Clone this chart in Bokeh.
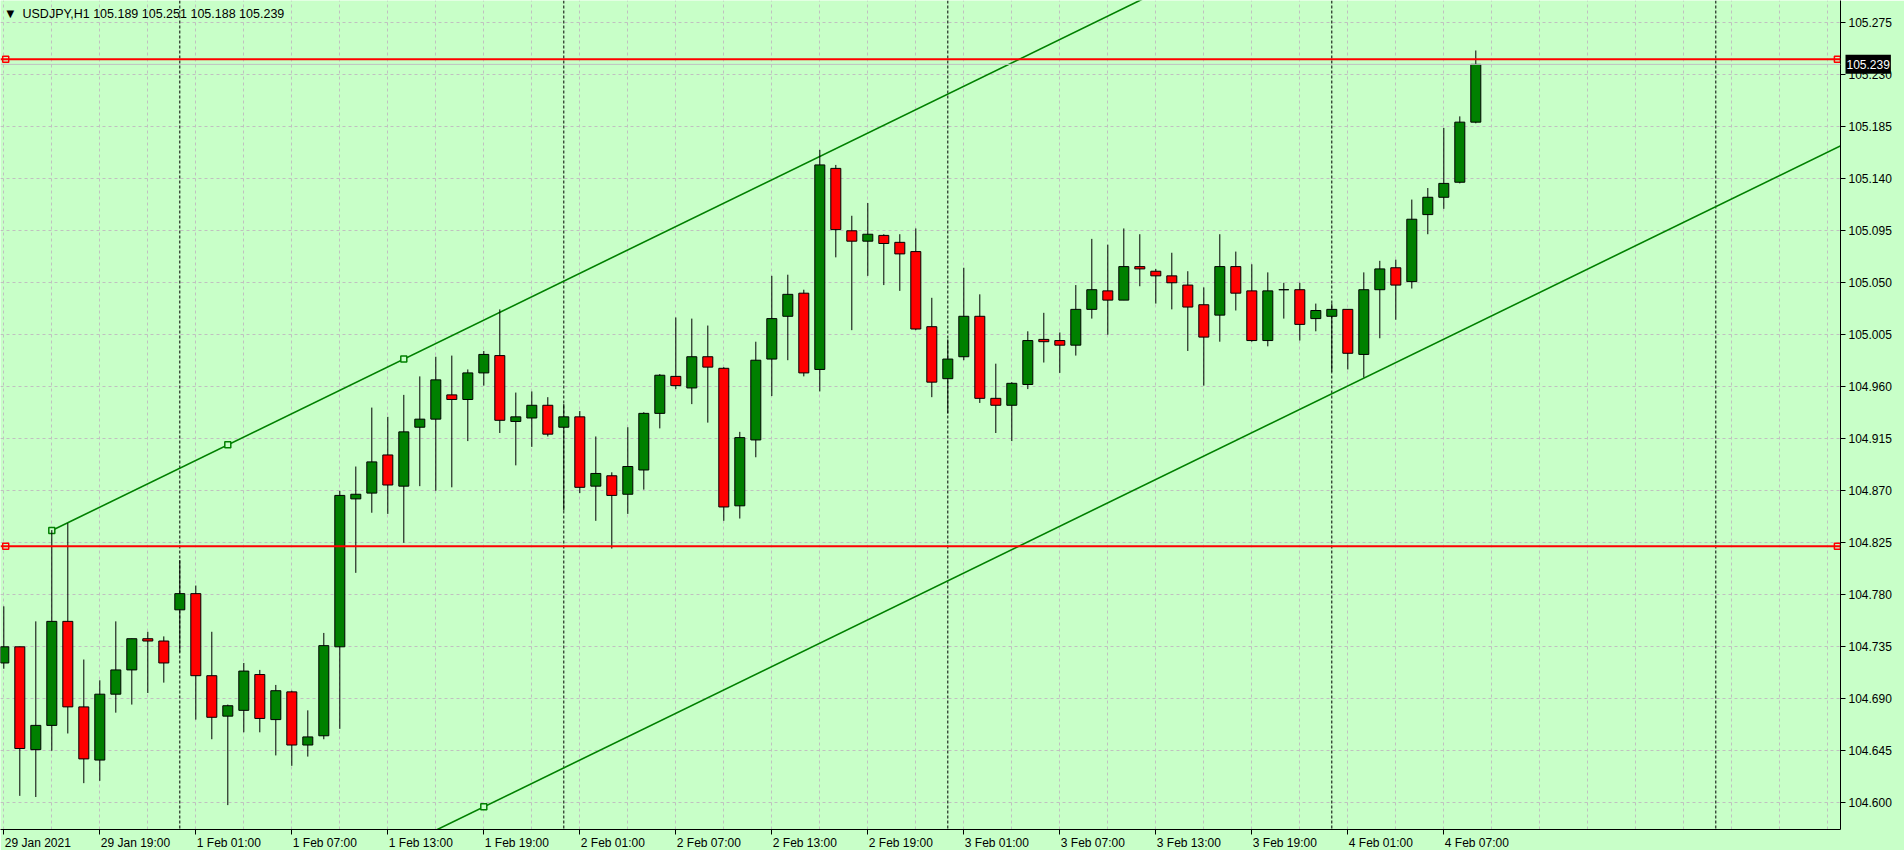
from bokeh.plotting import figure
from bokeh.models import Range1d, FixedTicker, Span, Label, ColumnDataSource
from bokeh.embed import file_html
from bokeh.resources import INLINE

symbol = "USDJPY,H1"
opens = [104.721, 104.735, 104.646, 104.667, 104.757, 104.683, 104.637, 104.694, 104.715, 104.742,
         104.740, 104.767, 104.781, 104.710, 104.675, 104.680, 104.711, 104.672, 104.696, 104.650,
         104.658, 104.735, 104.863, 104.868, 104.901, 104.874, 104.925, 104.932, 104.953, 104.949,
         104.972, 104.987, 104.930, 104.933, 104.944, 104.925, 104.934, 104.874, 104.883, 104.867,
         104.888, 104.937, 104.969, 104.959, 104.986, 104.976, 104.857, 104.914, 104.984, 105.021,
         105.041, 104.975, 105.149, 105.095, 105.086, 105.091, 105.085, 105.077, 105.012, 104.967,
         104.986, 105.021, 104.950, 104.944, 104.962, 105.001, 105.000, 104.996, 105.027, 105.043,
         105.035, 105.064, 105.060, 105.056, 105.048, 105.031, 105.022, 105.064, 105.043, 105.000,
         105.044, 105.044, 105.019, 105.021, 105.027, 104.988, 105.044, 105.063, 105.051, 105.109,
         105.124, 105.137, 105.189]
highs = [104.770, 104.735, 104.757, 104.836, 104.842, 104.724, 104.706, 104.757, 104.742, 104.748,
         104.744, 104.810, 104.788, 104.748, 104.685, 104.721, 104.715, 104.702, 104.697, 104.680,
         104.747, 104.870, 104.891, 104.942, 104.934, 104.953, 104.969, 104.986, 104.987, 104.975,
         104.991, 105.027, 104.955, 104.956, 104.951, 104.945, 104.939, 104.917, 104.886, 104.925,
         104.938, 104.971, 105.020, 105.019, 105.013, 104.977, 104.921, 104.999, 105.056, 105.057,
         105.044, 105.165, 105.152, 105.108, 105.119, 105.092, 105.092, 105.097, 105.037, 105.001,
         105.063, 105.040, 104.980, 104.964, 105.008, 105.024, 105.007, 105.048, 105.088, 105.083,
         105.097, 105.092, 105.062, 105.076, 105.060, 105.046, 105.092, 105.077, 105.066, 105.059,
         105.050, 105.050, 105.032, 105.032, 105.027, 105.059, 105.069, 105.070, 105.122, 105.132,
         105.184, 105.194, 105.251]
lows = [104.716, 104.606, 104.605, 104.645, 104.660, 104.617, 104.619, 104.678, 104.685, 104.695,
        104.704, 104.730, 104.672, 104.655, 104.598, 104.661, 104.661, 104.641, 104.632, 104.640,
        104.655, 104.664, 104.799, 104.851, 104.850, 104.825, 104.874, 104.870, 104.873, 104.913,
        104.961, 104.920, 104.892, 104.908, 104.917, 104.853, 104.868, 104.844, 104.820, 104.850,
        104.871, 104.924, 104.958, 104.945, 104.929, 104.844, 104.846, 104.899, 104.952, 104.983,
        104.969, 104.956, 105.072, 105.009, 105.056, 105.048, 105.043, 105.009, 104.951, 104.937,
        104.983, 104.946, 104.920, 104.913, 104.958, 104.981, 104.972, 104.987, 105.019, 105.005,
        105.035, 105.047, 105.032, 105.027, 104.991, 104.961, 104.999, 105.026, 104.999, 104.995,
        105.019, 105.000, 105.008, 104.973, 104.975, 104.968, 105.002, 105.018, 105.045, 105.092,
        105.114, 105.136, 105.188]
closes = [104.735, 104.647, 104.667, 104.757, 104.683, 104.638, 104.694, 104.715, 104.742, 104.740,
          104.721, 104.781, 104.710, 104.674, 104.684, 104.714, 104.673, 104.697, 104.650, 104.657,
          104.736, 104.866, 104.867, 104.895, 104.875, 104.921, 104.932, 104.966, 104.949, 104.972,
          104.988, 104.931, 104.934, 104.944, 104.919, 104.934, 104.873, 104.885, 104.866, 104.891,
          104.937, 104.970, 104.961, 104.986, 104.977, 104.856, 104.916, 104.983, 105.019, 105.040,
          104.972, 105.152, 105.096, 105.086, 105.092, 105.084, 105.075, 105.010, 104.964, 104.984,
          105.021, 104.950, 104.944, 104.963, 105.000, 104.999, 104.996, 105.027, 105.044, 105.035,
          105.064, 105.062, 105.056, 105.050, 105.029, 105.003, 105.064, 105.041, 105.000, 105.043,
          105.044, 105.014, 105.026, 105.027, 104.989, 105.044, 105.062, 105.048, 105.105, 105.124,
          105.136, 105.189, 105.239]

x_label_bars = [0, 6, 12, 18, 24, 30, 36, 42, 48, 54, 60, 66, 72, 78, 84, 90]
x_labels = ["29 Jan 2021", "29 Jan 19:00", "1 Feb 01:00", "1 Feb 07:00", "1 Feb 13:00",
            "1 Feb 19:00", "2 Feb 01:00", "2 Feb 07:00", "2 Feb 13:00", "2 Feb 19:00",
            "3 Feb 01:00", "3 Feb 07:00", "3 Feb 13:00", "3 Feb 19:00", "4 Feb 01:00",
            "4 Feb 07:00"]
y_ticks = [104.600, 104.645, 104.690, 104.735, 104.780, 104.825, 104.870, 104.915,
           104.960, 105.005, 105.050, 105.095, 105.140, 105.185, 105.230, 105.275]
day_start_bars = [11, 35, 59, 83, 107]
hline_levels = [105.2434, 104.8221]
bid_price = 105.239
channel_p1 = (3, 104.8356)
channel_p2 = (25, 104.9840)
channel_p3 = (30, 104.5965)

BG = "#C8FFC8"
FW, FH = 1840, 829
PX_PER_BAR = 16.0
FONT = "Liberation Sans"
FS = 12
Y0, Y1 = 104.57690, 105.29427

x0 = -3.3 / PX_PER_BAR
p = figure(frame_width=FW, frame_height=FH, output_backend="svg", toolbar_location=None,
           x_range=Range1d(x0, x0 + FW / PX_PER_BAR),
           y_range=Range1d(Y0, Y1),
           y_axis_location="right",
           background_fill_color=BG, border_fill_color=BG,
           min_border_left=0, min_border_top=0, min_border_bottom=0, min_border_right=64)
p.outline_line_color = None

# --- text width estimate (Arial / Liberation Sans metrics) to left-align time labels
_w = {c: 556 for c in "0123456789"}
_w.update({" ": 278, ":": 278, "J": 500, "a": 556, "n": 556, "F": 611, "e": 556, "b": 556})
def text_w(s):
    return sum(_w.get(ch, 556) for ch in s) * FS / 1000.0

centers = [round(b + (text_w(t) / 2 + 1) / PX_PER_BAR, 4) for b, t in zip(x_label_bars, x_labels)]

p.xaxis.ticker = FixedTicker(ticks=centers, minor_ticks=x_label_bars)
p.xaxis.major_label_overrides = {c: t for c, t in zip(centers, x_labels)}
p.xaxis.major_tick_line_color = None
p.xaxis.major_tick_out = 0
p.xaxis.minor_tick_line_color = "black"
p.xaxis.minor_tick_in = 0
p.xaxis.minor_tick_out = 5
p.xaxis.major_label_standoff = 1

p.yaxis.ticker = FixedTicker(ticks=y_ticks)
p.yaxis.major_label_overrides = {v: f"{v:.3f}" for v in y_ticks}
p.yaxis.major_tick_line_color = "black"
p.yaxis.major_tick_in = 0
p.yaxis.major_tick_out = 5
p.yaxis.minor_tick_line_color = None
p.yaxis.major_label_standoff = 3
for ax in (p.xaxis, p.yaxis):
    ax.axis_line_color = "black"
    ax.major_label_text_font = FONT
    ax.major_label_text_font_size = f"{FS}px"
    ax.major_label_text_color = "black"

p.xgrid.ticker = FixedTicker(ticks=list(range(0, 118, 3)))
p.ygrid.ticker = FixedTicker(ticks=y_ticks)
for g in (p.xgrid, p.ygrid):
    g.grid_line_color = "#C0C0C0"
    g.grid_line_dash = "3 3"
    g.grid_line_width = 1

# period separators
for b in day_start_bars:
    p.add_layout(Span(location=b, dimension="height", line_color="black",
                      line_dash="3 2", line_width=1, level="underlay"))

# bid line
p.add_layout(Span(location=bid_price, dimension="width", line_color="#C0C0C0", line_width=1))

# channel
(x1, y1), (x2, y2), (x3, y3) = channel_p1, channel_p2, channel_p3
slope = (y2 - y1) / (x2 - x1)
x_end = 120
p.line([x1, x_end], [y1, y1 + slope * (x_end - x1)], line_color="#008000", line_width=1.6)
p.line([x3 - 40, x_end], [y3 - slope * 40, y3 + slope * (x_end - x3)], line_color="#008000", line_width=1.6)
xm = (x1 + x2) / 2.0
p.scatter([x1, xm, x2, x3], [y1, y1 + slope * (xm - x1), y2, y3], marker="square", size=6,
          line_color="#008000", fill_color=BG, line_width=1.5)

# candles
idx = list(range(len(opens)))
src = ColumnDataSource(dict(
    x=idx, o=opens, h=highs, l=lows, c=closes,
    top=[max(o, c) for o, c in zip(opens, closes)],
    bot=[min(o, c) for o, c in zip(opens, closes)],
    color=["#008000" if c > o else ("#FF0000" if c < o else "black") for o, c in zip(opens, closes)],
))
p.segment(x0="x", y0="l", x1="x", y1="h", source=src, line_color="black", line_width=1)
p.vbar(x="x", top="top", bottom="bot", width=0.625, source=src,
       fill_color="color", line_color="black", line_width=1)

# horizontal lines
for lv in hline_levels:
    p.add_layout(Span(location=lv, dimension="width", line_color="#FF0000", line_width=2))
p.scatter([0.12] * len(hline_levels) + [114.6] * len(hline_levels), hline_levels + hline_levels,
          marker="square", size=6, line_color="#FF0000", fill_color=BG, line_width=1.5)

# title
p.add_layout(Label(x=6, y=FH - 12.5, x_units="screen", y_units="screen", text="\u25bc",
                   text_font="DejaVu Sans", text_font_size="10px", text_baseline="middle",
                   text_color="black"))
p.add_layout(Label(x=22, y=FH - 13, x_units="screen", y_units="screen",
                   text=f"{symbol}  {opens[-1]:.3f} {highs[-1]:.3f} {lows[-1]:.3f} {closes[-1]:.3f}",
                   text_font=FONT, text_font_size="12.5px", text_baseline="middle",
                   text_color="black"))

# price tag on the price scale (in the right panel, level with the last close;
# the panel begins after the price axis, hence the negative offset)
tag_y = (closes[-1] - Y0) / (Y1 - Y0) * FH
p.add_layout(Label(x=-49, y=tag_y, x_units="screen", y_units="screen",
                   text=f"{closes[-1]:.3f}", text_font=FONT, text_font_size=f"{FS}px",
                   text_baseline="middle", text_color="white",
                   background_fill_color="black", padding=(1, 5)), "right")

open("out.html", "w").write(file_html(p, INLINE))
